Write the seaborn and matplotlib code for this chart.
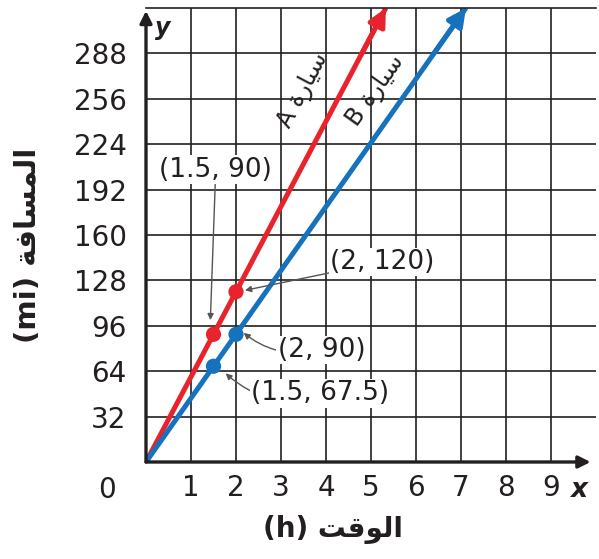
import numpy as np
import pandas as pd
import matplotlib
matplotlib.use("Agg")
import matplotlib.pyplot as plt
import seaborn as sns

##########################################################
# dati
hours_a = [0, 1.5, 2, 5.33]
miles_a = [0, 90, 120, 320]
hours_b = [0, 1.5, 2, 7.11]
miles_b = [0, 67.5, 90, 320]
point_labels_a = ["", "(1.5, 90)", "(2, 120)", ""]
point_labels_b = ["", "(1.5, 67.5)", "(2, 90)", ""]
x_ticks = [1, 2, 3, 4, 5, 6, 7, 8, 9]
y_ticks = [32, 64, 96, 128, 160, 192, 224, 256, 288]

# testo arabo in forme di presentazione, ordine visivo
x_title = "(h) \ufe96\ufed7\ufeee\ufedf\ufe8d"               # الوقت (h)
y_title = "(mi) \ufe94\ufed3\ufe8e\ufeb4\ufee4\ufedf\ufe8d"   # المسافة (mi)
car = "\ufe93\ufead\ufe8e\ufef4\ufeb3"                        # سيارة
car_a = "A " + car
car_b = "B " + car

RED = "#e8232b"
BLUE = "#1772bd"
INK = "#231f20"

sns.set_theme(style="white")
plt.rcParams['font.family'] = ['DejaVu Sans']

fig = plt.figure(figsize=(5.99, 5.59), dpi=100)
ax = fig.add_axes([146/599, 97/559, 450/599, 454/559])

df_a = pd.DataFrame({'h': hours_a, 'mi': miles_a})
df_b = pd.DataFrame({'h': hours_b, 'mi': miles_b})

ax.set_xlim(0, 10)
ax.set_ylim(0, 320)
ax.set_xticks(x_ticks)
ax.set_yticks(y_ticks)
ax.grid(True, color=INK, lw=1.2)
ax.set_axisbelow(True)
ax.tick_params(length=0, labelsize=20, colors=INK)
ax.tick_params(axis='x', pad=9)
ax.tick_params(axis='y', pad=14)
for s in ['left', 'bottom', 'right']:
    ax.spines[s].set_visible(False)
ax.spines['top'].set_color(INK)
ax.spines['top'].set_linewidth(1.2)

# assi con freccia
ax.annotate("", xy=(9.88, 0), xytext=(0, 0), annotation_clip=False,
            arrowprops=dict(arrowstyle='-|>', lw=2.4, color=INK, mutation_scale=18, shrinkA=0, shrinkB=0))
ax.annotate("", xy=(0, 318), xytext=(0, 0), annotation_clip=False,
            arrowprops=dict(arrowstyle='-|>', lw=2.4, color=INK, mutation_scale=18, shrinkA=0, shrinkB=0))
ax.text(9.62, -20, "x", fontsize=19, style='italic', fontweight='bold', color=INK, ha='center', va='center')
ax.text(0.38, 306, "y", fontsize=17, style='italic', fontweight='bold', color=INK, ha='center', va='center')
ax.text(-0.87, -20, "0", fontsize=20, color=INK, ha='center', va='center', clip_on=False)

# rette delle due auto
for df, col in [(df_a, RED), (df_b, BLUE)]:
    sns.lineplot(data=df, x='h', y='mi', color=col, lw=3.6, ax=ax, solid_capstyle='butt')
    ax.annotate("", xy=(df['h'].iloc[-1], df['mi'].iloc[-1]),
                xytext=(df['h'].iloc[-1] * 0.9, df['mi'].iloc[-1] * 0.9), annotation_clip=False,
                arrowprops=dict(arrowstyle='-|>', lw=3.6, color=col, mutation_scale=26, shrinkA=0, shrinkB=0))
    sns.scatterplot(data=df.iloc[1:3], x='h', y='mi', color=col, s=120, ax=ax, edgecolor='none', zorder=5)

ax.text(3.5, 262, car_a, fontsize=17, rotation=62, ha='center', va='center', color=INK)
ax.text(5.1, 262, car_b, fontsize=17, rotation=54.6, ha='center', va='center', color=INK)

# etichette dei punti
box = dict(fc='white', ec='none', pad=1)
arr = dict(arrowstyle='-|>', color='#555555', lw=1, mutation_scale=9, shrinkA=0, shrinkB=0)
ax.annotate(point_labels_a[1], xy=(hours_a[1] - 0.07, miles_a[1] + 10), xytext=(1.55, 206),
            fontsize=19, ha='center', va='center', color=INK, bbox=box, arrowprops=arr)
ax.annotate(point_labels_a[2], xy=(hours_a[2] + 0.2, miles_a[2] + 1), xytext=(5.25, 141),
            fontsize=19, ha='center', va='center', color=INK, bbox=box, arrowprops=arr)
ax.annotate(point_labels_b[2], xy=(hours_b[2] + 0.17, miles_b[2] + 1), xytext=(3.9, 79),
            fontsize=19, ha='center', va='center', color=INK, bbox=box,
            arrowprops=dict(arr, connectionstyle='arc3,rad=-0.25'))
ax.annotate(point_labels_b[1], xy=(hours_b[1] + 0.27, miles_b[1] - 5), xytext=(3.87, 48.5),
            fontsize=19, ha='center', va='center', color=INK, bbox=box,
            arrowprops=dict(arr, connectionstyle='arc3,rad=-0.3'))

ax.set_xlabel("")
ax.set_ylabel("")
fig.text(333/599, 1 - 530/559, x_title, fontsize=20, fontweight='bold', ha='center', va='center', color=INK)
fig.text(28/599, 1 - 245/559, y_title, fontsize=21, fontweight='bold', rotation=90, ha='center', va='center', color=INK)

fig.savefig("out.png", dpi=100)
